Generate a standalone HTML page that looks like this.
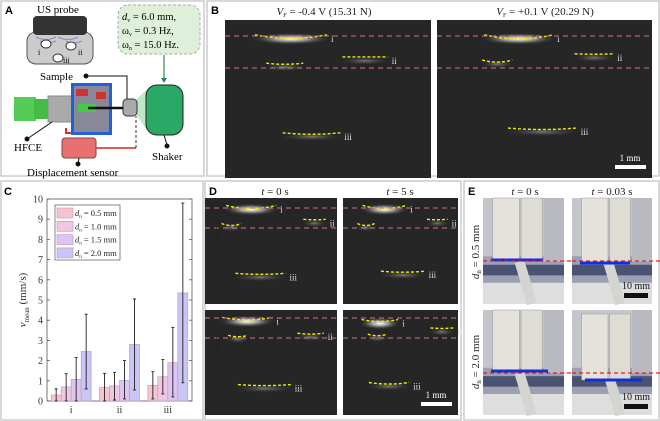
<!DOCTYPE html>
<html><head><meta charset="utf-8"><style>
html,body{margin:0;padding:0;background:#fff}
svg{display:block;font-family:"Liberation Serif",serif}
.pl{font-family:"Liberation Sans",sans-serif;font-weight:bold;font-size:11px}
</style></head><body>
<svg id="fig" width="660" height="421" viewBox="0 0 660 421" xmlns="http://www.w3.org/2000/svg">
<defs>
<radialGradient id="glow" cx="50%" cy="50%" r="50%"><stop offset="0" stop-color="#fff"/><stop offset="0.4" stop-color="#bbb" stop-opacity="0.8"/><stop offset="1" stop-color="#333" stop-opacity="0"/></radialGradient>
<radialGradient id="glow2" cx="50%" cy="50%" r="50%"><stop offset="0" stop-color="#777"/><stop offset="1" stop-color="#333" stop-opacity="0"/></radialGradient>
</defs>
<rect x="1" y="1" width="203" height="175" fill="none" stroke="#ccc" stroke-width="1.5"/>
<rect x="207" y="1" width="452" height="175" fill="none" stroke="#ccc" stroke-width="1.5"/>
<rect x="1" y="181" width="202" height="239" fill="none" stroke="#ccc" stroke-width="1.5"/>
<rect x="205" y="181" width="256" height="239" fill="none" stroke="#ccc" stroke-width="1.5"/>
<rect x="464" y="181" width="195" height="239" fill="none" stroke="#ccc" stroke-width="1.5"/>
<text class="pl" x="5" y="14">A</text>
<text class="pl" x="211" y="14">B</text>
<text class="pl" x="4" y="195">C</text>
<text class="pl" x="209" y="195">D</text>
<text class="pl" x="468" y="195">E</text>

<g>
<text x="37" y="13" font-size="11">US probe</text>
<rect x="27" y="32" width="66" height="32" rx="9" fill="#ccc" stroke="#555"/>
<rect x="33" y="16" width="54" height="19" rx="4" fill="#333"/>
<path d="M36 37 q10 5 20 0 M58 37 q10 5 20 0 M40 41 q8 4 16 0 M66 41 q8 4 16 0" stroke="#88c" fill="none"/>
<ellipse cx="46" cy="44" rx="5" ry="4" fill="#fff" stroke="#333"/>
<ellipse cx="71" cy="46" rx="5" ry="4" fill="#fff" stroke="#333"/>
<ellipse cx="58" cy="58" rx="5" ry="4" fill="#fff" stroke="#333"/>
<text x="38" y="55" font-size="8">i</text><text x="78" y="55" font-size="8">ii</text><text x="63" y="63" font-size="8">iii</text>
<rect x="118" y="5" width="82" height="49" rx="10" fill="#dff0da" stroke="#aaa" stroke-dasharray="3,2"/>
<text x="122" y="20" font-size="10.5"><tspan font-style="italic">d</tspan><tspan font-size="6" dy="2">v</tspan><tspan dy="-2"> = 6.0 mm,</tspan></text>
<text x="122" y="34" font-size="10.5">ω<tspan font-size="6" dy="2">v</tspan><tspan dy="-2"> = 0.3 Hz,</tspan></text>
<text x="122" y="48" font-size="10.5">ω<tspan font-size="6" dy="2">n</tspan><tspan dy="-2"> = 15.0 Hz.</tspan></text>
<line x1="164" y1="55" x2="164" y2="80" stroke="#2a8a4a" stroke-width="1.2"/><path d="M161 78 L167 78 L164 83Z" fill="#2a8a4a"/>
<text x="40" y="80" font-size="11">Sample</text>
<circle cx="86" cy="76" r="2.5" fill="#111"/><path d="M86 76 H127 V100" fill="none" stroke="#111"/>
<path d="M136 100 L148 88 L148 132 L136 114Z" fill="#bfe8c8"/>
<rect x="146" y="85" width="37" height="50" rx="11" fill="#2aa866" stroke="#222"/>
<rect x="123" y="99" width="14" height="17" rx="4" fill="#aaa" stroke="#333"/>
<rect x="14" y="97" width="22" height="24" fill="#5c5"/>
<rect x="34" y="99" width="14" height="20" fill="#4b4"/>
<rect x="48" y="96" width="24" height="26" fill="#aaa" stroke="#888"/>
<rect x="71" y="83" width="41" height="52" fill="#2060dd"/>
<rect x="74" y="86" width="35" height="46" fill="#889"/>
<rect x="76" y="89" width="12" height="7" fill="#c33"/><rect x="96" y="92" width="10" height="7" fill="#c33"/>
<rect x="78" y="104" width="18" height="8" fill="#4c4"/><line x1="88" y1="108" x2="123" y2="108" stroke="#111" stroke-width="2.5"/>
<path d="M27 139 L52 122" stroke="#111"/><circle cx="27" cy="139" r="2.5" fill="#111"/>
<text x="14" y="151" font-size="11">HFCE</text>
<path d="M66 128 V133 H72" stroke="#c33" fill="none" stroke-width="2"/>
<rect x="62" y="138" width="34" height="20" rx="3" fill="#e87070" stroke="#844"/>
<line x1="96" y1="148" x2="136" y2="148" stroke="#d22" stroke-width="1.5"/>
<line x1="136" y1="148" x2="136" y2="116" stroke="#333" stroke-dasharray="3,2"/>
<line x1="79" y1="158" x2="78" y2="164" stroke="#111"/><circle cx="78" cy="164" r="2.5" fill="#111"/>
<text x="27" y="176" font-size="11">Displacement sensor</text>
<line x1="164" y1="135" x2="167" y2="145" stroke="#111"/><circle cx="167" cy="146" r="2.5" fill="#111"/>
<text x="152" y="160" font-size="11">Shaker</text>
</g>

<g id="usimgs"></g>
<g id="chartC"></g>
<g id="photos"></g>
</svg>
<script>
const NS="http://www.w3.org/2000/svg";
function mk(tag,attrs,parent,txt){const e=document.createElementNS(NS,tag);for(const k in attrs)e.setAttribute(k,attrs[k]);if(txt!==undefined)e.textContent=txt;parent.appendChild(e);return e;}

const categories=["i","ii","iii"];
const seriesLabels=["0.5 mm","1.0 mm","1.5 mm","2.0 mm"];
const means05=[0.3,0.67,0.78];
const means10=[0.7,0.75,1.2];
const means15=[1.07,1.02,1.9];
const means20=[2.45,2.8,5.35];
const errHigh05=[0.6,1.37,1.45];
const errHigh10=[1.35,1.42,2.05];
const errHigh15=[2.15,2.0,3.65];
const errHigh20=[4.3,5.05,9.8];
const errLow05=[0,0,0.1];
const errLow10=[0,0.05,0.35];
const errLow15=[0,0.1,0.2];
const errLow20=[0.6,0.55,0.9];
const yTicks=[0,1,2,3,4,5,6,7,8,9,10];

const C=document.getElementById('chartC');
const x0=47,x1=192,y0=401,y1=199,ymax=10;
const ys=v=>y0-(v/ymax)*(y0-y1);
const band=(x1-x0)/categories.length;
const barW=10;
const xs=(ci,si)=>x0+band*(ci+0.5)+(si-2)*barW;
const colors=["#f6c4cf","#efc7e3","#dec4f0","#c9c6f6"];
const means=[means05,means10,means15,means20],his=[errHigh05,errHigh10,errHigh15,errHigh20],los=[errLow05,errLow10,errLow15,errLow20];
let r=mk('rect',{x:x0,y:y1,width:x1-x0,height:y0-y1,fill:"#fff",stroke:"#555","stroke-width":0.8},C);


yTicks.forEach(t=>{
  const y=ys(t);
  let l=mk('line',{x1:x0,x2:x0+3,y1:y,y2:y,stroke:"#555","stroke-width":0.8},C);
  
  
  mk('line',{x1:x1,x2:x1-3,y1:y,y2:y,stroke:"#555","stroke-width":0.8},C);
  let tx=mk('text',{x:x0-4,y:y+3.5,"text-anchor":"end","font-size":10,fill:"#333"},C,String(t));
  
  
});
for(let s=0;s<4;s++){for(let c=0;c<3;c++){
  const x=xs(c,s),v=means[s][c];
  let b=mk('rect',{x:x,y:ys(v),width:barW,height:y0-ys(v),fill:colors[s],stroke:"#b59ab8","stroke-width":0.6},C);
  
  
  const cx=x+barW/2;
  let e=mk('path',{d:`M${cx} ${ys(his[s][c])} V${ys(los[s][c])} M${cx-1.5} ${ys(his[s][c])} H${cx+1.5} M${cx-1.5} ${ys(los[s][c])} H${cx+1.5}`,stroke:"#222","stroke-width":0.9,fill:"none"},C);
  
  
}}
categories.forEach((c,i)=>{
  let t=mk('text',{x:x0+band*(i+0.5),y:413,"text-anchor":"middle","font-size":10,fill:"#333"},C,c);
  
  
});
let yl=mk('text',{transform:"translate(26 300) rotate(-90)","text-anchor":"middle","font-size":11,fill:"#333"},C);


yl.innerHTML='<tspan font-style="italic">v</tspan><tspan font-size="7" dy="3">mean</tspan><tspan dy="-3"> (mm/s)</tspan>';
let lg=mk('rect',{x:55,y:205,width:65,height:55,fill:"#fff",stroke:"#555","stroke-width":0.7},C);


seriesLabels.forEach((s,i)=>{
  const y=208+i*13.3;
  let sw=mk('rect',{x:57,y:y,width:16,height:10,fill:colors[i],stroke:"#b59ab8","stroke-width":0.6},C);
  
  
  let t=mk('text',{x:75,y:y+8,"font-size":8.5,fill:"#222"},C);
  
  
  t.innerHTML='<tspan font-style="italic">d</tspan><tspan font-size="5" dy="2">n</tspan><tspan dy="-2"> = '+s+'</tspan>';
});

const U=document.getElementById('usimgs');
function usImg(x,y,w,h,name,l1,l2,feat,scale){
  const g=mk('g',{},U);
  
  
  mk('rect',{x,y,width:w,height:h,fill:"#262626"},g);
  feat.forEach(f=>{
    mk('ellipse',{cx:x+f[0]*w,cy:y+f[1]*h+3,rx:f[2]*w*0.55,ry:f[4]?6:4,fill:f[4]?"url(#glow)":"url(#glow2)"},g);
    mk('path',{d:`M${x+(f[0]-f[2]/2)*w} ${y+f[1]*h-1} Q${x+f[0]*w} ${y+f[1]*h+f[3]} ${x+(f[0]+f[2]/2)*w} ${y+f[1]*h-1}`,stroke:"#ee0",fill:"none","stroke-width":1.4,"stroke-dasharray":"3,2"},g);
    mk('text',{x:x+(f[0]+f[2]/2)*w+4,y:y+f[1]*h+6,"font-size":9,fill:"#ddd"},g,f[5]);
  });
  [l1,l2].forEach(ly=>mk('line',{x1:x,x2:x+w,y1:ly,y2:ly,stroke:"#d8708a","stroke-width":0.9,"stroke-dasharray":"5,4"},g));
  if(scale){mk('rect',{x:x+w-37,y:y+h-13,width:31,height:4,fill:"#fff"},g);mk('text',{x:x+w-22,y:y+h-17,"text-anchor":"middle","font-size":9,fill:"#fff"},g,"1 mm");}
}
usImg(225,20,206,158,"us-image-b-left",36,68,[[0.32,0.1,0.35,6,1,"i"],[0.29,0.28,0.18,1,0,""],[0.68,0.24,0.22,-1,0,"ii"],[0.42,0.72,0.28,2,0,"iii"]],false);
usImg(437,20,215,158,"us-image-b-right",36,68,[[0.38,0.1,0.32,7,1,"i"],[0.28,0.26,0.14,3,0,""],[0.73,0.22,0.18,0,0,"ii"],[0.49,0.69,0.32,2,0,"iii"]],true);
usImg(205,198,132,106,"us-image-d-0-5-t0",208,228,[[0.35,0.08,0.38,5,1,"i"],[0.2,0.25,0.15,3,0,""],[0.83,0.21,0.17,0,0,"ii"],[0.42,0.72,0.38,1,0,"iii"]],false);
usImg(343,198,115,106,"us-image-d-0-5-t5",208,228,[[0.36,0.08,0.38,5,1,"i"],[0.2,0.25,0.15,3,0,""],[0.82,0.21,0.18,0,0,"ii"],[0.52,0.7,0.38,1,0,"iii"]],false);
usImg(205,310,132,105,"us-image-d-2-0-t0",318,338,[[0.32,0.08,0.38,4,1,"i"],[0.25,0.25,0.15,2,0,""],[0.8,0.23,0.2,1,0,"ii"],[0.45,0.72,0.4,1,0,"iii"]],false);
usImg(343,310,115,105,"us-image-d-2-0-t5",318,338,[[0.32,0.1,0.32,3,1,"i"],[0.3,0.24,0.17,2,0,""],[0.86,0.18,0.2,0,0,"ii"],[0.4,0.7,0.35,2,0,"iii"]],true);

function txt(x,y,html,name,size,anchor,rot){const t=mk('text',{x,y,"font-size":size||11,"text-anchor":anchor||"middle",fill:"#222"},document.getElementById('fig'));t.innerHTML=html;if(rot)t.setAttribute('transform',`rotate(-90 ${x} ${y})`);return t;}
txt(324,15,'<tspan font-style="italic">V</tspan><tspan font-size="6" dy="2">F</tspan><tspan dy="-2"> = -0.4 V (15.31 N)</tspan>','b-left-title');
txt(545,15,'<tspan font-style="italic">V</tspan><tspan font-size="6" dy="2">F</tspan><tspan dy="-2"> = +0.1 V (20.29 N)</tspan>','b-right-title');
txt(275,195,'<tspan font-style="italic">t</tspan> = 0 s','d-left-title');
txt(400,195,'<tspan font-style="italic">t</tspan> = 5 s','d-right-title');
txt(525,195,'<tspan font-style="italic">t</tspan> = 0 s','e-left-title');
txt(612,195,'<tspan font-style="italic">t</tspan> = 0.03 s','e-right-title');
txt(221,252,'<tspan font-style="italic">d</tspan><tspan font-size="7" dy="2">n</tspan><tspan dy="-2"> = 0.5 mm</tspan>','d-row1-label',11,"middle",true);
txt(221,362,'<tspan font-style="italic">d</tspan><tspan font-size="7" dy="2">n</tspan><tspan dy="-2"> = 2.0 mm</tspan>','d-row2-label',11,"middle",true);
txt(479,252,'<tspan font-style="italic">d</tspan><tspan font-size="7" dy="2">n</tspan><tspan dy="-2"> = 0.5 mm</tspan>','e-row1-label',11,"middle",true);
txt(479,362,'<tspan font-style="italic">d</tspan><tspan font-size="7" dy="2">n</tspan><tspan dy="-2"> = 2.0 mm</tspan>','e-row2-label',11,"middle",true);

const P=document.getElementById('photos');
function photo(x,y,w,h,name,redY,blueY,blueX0,blueX1,scale,shift){
  const g=mk('g',{},P);
  
  
  mk('rect',{x,y,width:w,height:h,fill:"#c4c6cc"},g);
  mk('rect',{x,y:y+h*0.55,width:w,height:h*0.45,fill:"#9ca0b2"},g);
  mk('rect',{x,y:y+h*0.63,width:w,height:h*0.1,fill:"#4a5472"},g);
  mk('rect',{x,y:y+h*0.8,width:w,height:h*0.2,fill:"#dedede"},g);
  mk('path',{d:`M${x+w*0.45} ${y+h*0.6} Q${x+w*0.55} ${y+h*0.85} ${x+w*0.6} ${y+h}`,stroke:"#d4d4d0","stroke-width":10,fill:"none"},g);
  mk('rect',{x:x+w*0.75,y,width:w*0.25,height:h*0.6,fill:"#b8bac0"},g);
  mk('rect',{x:x+w*0.12,y:y+(shift||0),width:w*0.33,height:blueY-y-(shift||0),fill:"#e4e2da",stroke:"#999","stroke-width":0.5},g);
  mk('rect',{x:x+w*0.47,y:y+(shift||0),width:w*0.26,height:blueY-y-(shift||0),fill:"#dedcd4",stroke:"#999","stroke-width":0.5},g);
  mk('line',{x1:blueX0,x2:blueX1,y1:blueY,y2:blueY,stroke:"#1030e0","stroke-width":3},g);
  mk('line',{x1:x,x2:x+w+8,y1:redY,y2:redY,stroke:"#e02020","stroke-width":1.3,"stroke-dasharray":"4,3"},g);
  if(scale){mk('rect',{x:x+w-28,y:y+h-11,width:24,height:5,fill:"#111"},g);mk('text',{x:x+w-16,y:y+h-15,"text-anchor":"middle","font-size":10,fill:"#111"},g,"10 mm");}
}
photo(483,198,81,106,"photo-e-0-5-t0",261,260,491,543,false);
photo(572,198,80,106,"photo-e-0-5-t003",261,263,580,630,true);
photo(483,310,81,105,"photo-e-2-0-t0",373,371,491,548,false);
photo(572,310,80,105,"photo-e-2-0-t003",373,380,585,642,true,4);
</script>
</body></html>
